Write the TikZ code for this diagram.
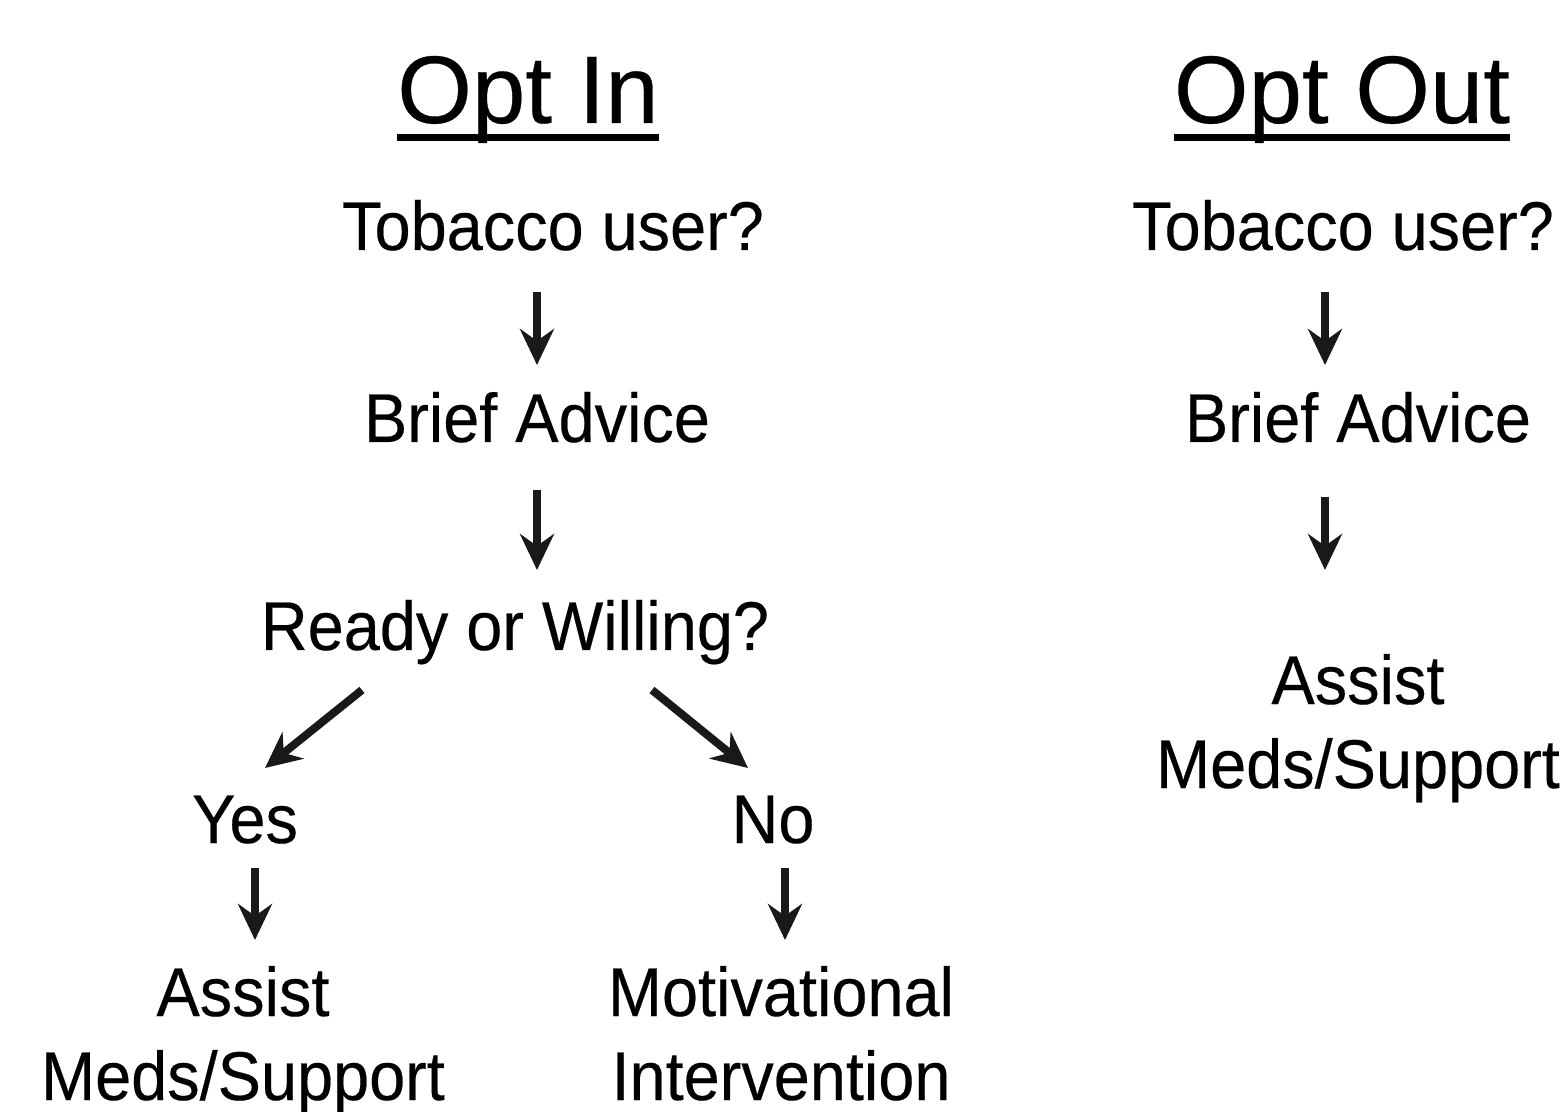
\documentclass[tikz,border=0pt]{standalone}
\usepackage{fontspec}
\setmainfont{Liberation Sans}[FakeStretch=0.94,FakeBold=0.3]
\newfontfamily\titlefont{Liberation Sans}[FakeBold=0.3]
\usetikzlibrary{arrows.meta}

\begin{document}
\begin{tikzpicture}[x=0.5pt,y=-0.5pt,
    >={Stealth[length=18pt,width=17pt,inset=6pt]},
    txt/.style={anchor=base,inner sep=0pt,align=center,
        font=\fontsize{34.5}{42}\selectfont},
    head/.style={anchor=base,inner sep=0pt,
        font=\titlefont\fontsize{48}{58}\selectfont},
    arr/.style={->,line width=4pt,draw=black!90},
    uline/.style={line width=3.5pt}]
    \useasboundingbox (0,0) rectangle (1565,1112);

    % opt in
    \node[head] (optin)   at (528,123)  {Opt In};
    \node[txt]  (tob1)    at (553,250)  {Tobacco user?};
    \node[txt]  (brief1)  at (537,442)  {Brief Advice};
    \node[txt]  (ready)   at (515,650)  {Ready or Willing?};
    \node[txt]  (yes)     at (245,843)  {Yes};
    \node[txt]  (no)      at (773,843)  {No};
    \node[txt]  (assist1) at (243,1100) {Assist\\Meds/Support};
    \node[txt]  (motiv)   at (781,1100) {Motivational\\Intervention};

    % opt out
    \node[head] (optout)  at (1342,123) {Opt Out};
    \node[txt]  (tob2)    at (1343,250) {Tobacco user?};
    \node[txt]  (brief2)  at (1358,442) {Brief Advice};
    \node[txt]  (assist2) at (1358,788) {Assist\\Meds/Support};

    \draw[uline] ([yshift=-7.5pt]optin.base west) -- ([yshift=-7.5pt]optin.base east);
    \draw[uline] ([yshift=-7.5pt]optout.base west) -- ([yshift=-7.5pt]optout.base east);

    \draw[arr] ([shift={(-16,42)}]tob1.base)    -- ([shift={(0,-77)}]brief1.base);
    \draw[arr] ([shift={(0,48)}]brief1.base)    -- ([shift={(22,-80)}]ready.base);
    \draw[arr] ([shift={(-153,40)}]ready.base)  -- ([shift={(20,-75)}]yes.base);
    \draw[arr] ([shift={(137,40)}]ready.base)   -- ([shift={(-25,-75)}]no.base);
    \draw[arr] ([shift={(10,25)}]yes.base)      -- ([shift={(12,-160)}]assist1.base);
    \draw[arr] ([shift={(12,25)}]no.base)       -- ([shift={(4,-160)}]motiv.base);

    \draw[arr] ([shift={(-18,42)}]tob2.base)    -- ([shift={(-33,-77)}]brief2.base);
    \draw[arr] ([shift={(-33,55)}]brief2.base)  -- ([shift={(-33,-218)}]assist2.base);
\end{tikzpicture}
\end{document}
